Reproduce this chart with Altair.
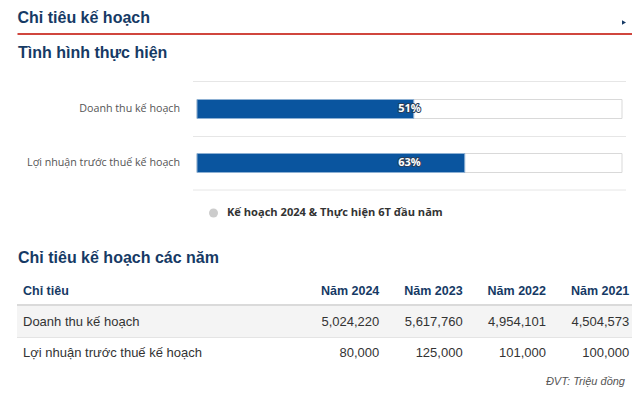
import altair as alt
import pandas as pd

# ---------------- data ----------------
bar_cats = ["Doanh thu kế hoạch", "Lợi nhuận trước thuế kế hoạch"]
bar_pcts = [51, 63]
legend_label = "Kế hoạch 2024 & Thực hiện 6T đầu năm"

years = ["Năm 2024", "Năm 2023", "Năm 2022", "Năm 2021"]
table_rows = ["Doanh thu kế hoạch", "Lợi nhuận trước thuế kế hoạch"]
revenue_plan = [5024220, 5617760, 4954101, 4504573]
profit_plan = [80000, 125000, 101000, 100000]

title_main = "Chỉ tiêu kế hoạch"
title_progress = "Tình hình thực hiện"
title_table = "Chỉ tiêu kế hoạch các năm"
first_col_header = "Chỉ tiêu"
unit_note = "ĐVT: Triệu đồng"

# ---------------- tables ----------------
bars_df = pd.DataFrame({"cat": bar_cats, "pct": bar_pcts})
table_df = pd.DataFrame({
    "row": [r for r in table_rows for _ in years],
    "year": years * len(table_rows),
    "value": revenue_plan + profit_plan,
})
rows_df = pd.DataFrame({"row": table_rows, "i": list(range(len(table_rows)))})
years_df = pd.DataFrame({"year": years})
one = pd.DataFrame({"k": [0]})

NAVY = "#163a65"
SANS = "Liberation Sans"
HC = "Open Sans"
W, H = 624, 389

# ---------------- scales ----------------
xq = alt.Scale(domain=[0, 100], range=[189, 614])
yb = alt.Scale(type="band", domain=bar_cats, range=[74, 182], paddingInner=0, paddingOuter=0)
xcol = alt.Scale(type="point", domain=years, range=[371.3, 621.3], padding=0)
yrow = alt.Scale(type="band", domain=table_rows, range=[298, 360], paddingInner=0, paddingOuter=0)


def label(text, x, y, size=16, weight="bold", color=NAVY, font=SANS, align="left",
          baseline="alphabetic", style="normal"):
    return alt.Chart(one).mark_text(
        font=font, fontSize=size, fontWeight=weight, color=color, align=align,
        baseline=baseline, fontStyle=style
    ).encode(x=alt.value(x), y=alt.value(y), text=alt.value(text))


# ---------------- header ----------------
t1 = label(title_main, 9.5, 15)
arrow = alt.Chart(one).mark_point(shape="triangle-right", filled=True, size=22,
                                  color=NAVY, opacity=1).encode(
    x=alt.value(616), y=alt.value(14.5))
red = alt.Chart(one).mark_rule(color="#d0463e", strokeWidth=2).encode(
    x=alt.value(9.5), x2=alt.value(624), y=alt.value(26))
t2 = label(title_progress, 10, 49.5)

# ---------------- progress bars ----------------
grid = alt.Chart(pd.DataFrame({"g": [73.5, 128.5, 182]})).mark_rule(
    color="#e6e6e6", strokeWidth=1).encode(
    x=alt.value(185), x2=alt.value(618), y=alt.Y("g:Q", scale=None))

track = alt.Chart(bars_df).transform_calculate(zero="0", full="100").mark_bar(
    height=19, fill="white", stroke="#d9d9d9", strokeWidth=1).encode(
    x=alt.X("zero:Q", scale=xq, axis=None), x2="full:Q",
    y=alt.Y("cat:N", scale=yb, axis=None))

bar = alt.Chart(bars_df).transform_calculate(zero="0").mark_bar(
    height=19, fill="#0a559f", stroke="#8db0d3", strokeWidth=1).encode(
    x=alt.X("zero:Q", scale=xq, axis=None), x2="pct:Q",
    y=alt.Y("cat:N", scale=yb, axis=None))

cat_lbl = alt.Chart(bars_df).mark_text(
    align="right", baseline="middle", font=HC, fontSize=10.7, color="#555").encode(
    x=alt.value(172), y=alt.Y("cat:N", scale=yb, axis=None), text="cat:N")

pct_base = alt.Chart(bars_df).transform_calculate(mid="50", lbl="datum.pct + '%'")
pct_outline = pct_base.mark_text(
    align="center", baseline="middle", font=HC, fontSize=11, fontWeight="bold",
    fill="white", stroke="#2a3f5a", strokeWidth=2, strokeJoin="round").encode(
    x=alt.X("mid:Q", scale=xq, axis=None), y=alt.Y("cat:N", scale=yb, axis=None), text="lbl:N")
pct_fill = pct_base.mark_text(
    align="center", baseline="middle", font=HC, fontSize=11, fontWeight="bold",
    fill="white").encode(
    x=alt.X("mid:Q", scale=xq, axis=None), y=alt.Y("cat:N", scale=yb, axis=None), text="lbl:N")

# legend
leg_dot = alt.Chart(one).mark_point(shape="circle", filled=True, size=81,
                                    color="#cccccc", opacity=1).encode(
    x=alt.value(205.5), y=alt.value(205))
leg_txt = label(legend_label, 219, 205, size=11.1, color="#333", font=HC,
                baseline="middle")

# ---------------- table ----------------
t3 = label(title_table, 10, 255)

row_bg = alt.Chart(rows_df).transform_filter("datum.i % 2 == 0").mark_rect(
    color="#f4f4f4").encode(
    x=alt.value(9), x2=alt.value(624), y=alt.Y("row:N", scale=yrow, axis=None))

hdr_line = alt.Chart(one).mark_rule(color="#dadada", strokeWidth=2).encode(
    x=alt.value(9), x2=alt.value(624), y=alt.value(297))
row_line = alt.Chart(one).mark_rule(color="#e4e4e4", strokeWidth=1).encode(
    x=alt.value(9), x2=alt.value(624), y=alt.value(329.5))

hdr_first = label(first_col_header, 15, 287, size=12.5)
hdr_years = alt.Chart(years_df).mark_text(
    align="right", baseline="alphabetic", font=SANS, fontSize=12.5,
    fontWeight="bold", color=NAVY).encode(
    x=alt.X("year:N", scale=xcol, axis=None), y=alt.value(287), text="year:N")

row_lbl = alt.Chart(rows_df).mark_text(
    align="left", baseline="middle", font=SANS, fontSize=13, color="#333").encode(
    x=alt.value(15), y=alt.Y("row:N", scale=yrow, axis=None), text="row:N")

cells = alt.Chart(table_df).mark_text(
    align="right", baseline="middle", font=SANS, fontSize=13, color="#333").encode(
    x=alt.X("year:N", scale=xcol, axis=None),
    y=alt.Y("row:N", scale=yrow, axis=None),
    text=alt.Text("value:Q", format=",d"))

note = label(unit_note, 617, 377, size=11, weight="normal", color="#555",
             align="right", style="italic")

chart = alt.layer(
    t1, arrow, red, t2,
    grid, track, bar, cat_lbl, pct_outline, pct_fill,
    leg_dot, leg_txt,
    t3, row_bg, hdr_line, row_line, hdr_first, hdr_years, row_lbl, cells, note,
).resolve_scale(x="independent", y="independent").properties(
    width=W, height=H, padding=0, autosize=alt.AutoSizeParams(type="none"),
    background="white",
).configure_view(stroke=None)

chart.save("out.html", embed_options={"renderer": "svg", "actions": False})
